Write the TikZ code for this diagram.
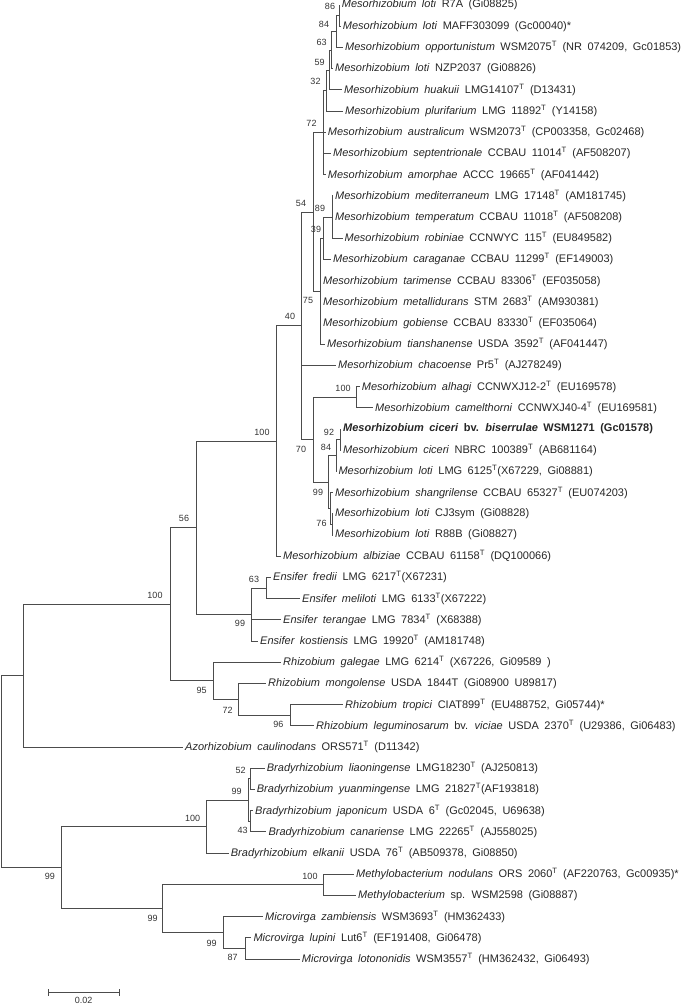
\documentclass[tikz,border=0pt]{standalone}
\usepackage{fontspec}
\setmainfont{Liberation Sans}[WordSpace=1.8]
\usepackage{tikz}
\newcommand{\tsup}{\textsuperscript{T}}

\begin{document}
\begin{tikzpicture}[x=1pt,y=-1pt,
    branch/.style={draw=black!70,line width=0.8pt},
    leaf/.style={anchor=west,inner xsep=2pt,inner ysep=0pt,font=\fontsize{11}{12}\selectfont,text=black!85},
    boot/.style={inner sep=0pt,font=\fontsize{9}{10}\selectfont,text=black!80}]
    \useasboundingbox (0,0) rectangle (685,1004);

    % Internal nodes
    \coordinate (root) at (1.5,771.6);
    \coordinate (azo) at (23,675.6);
    \coordinate (bmm) at (61.7,867.6);
    \coordinate (rhzb) at (170,604.25);
    \coordinate (ensme) at (196,527.75);
    \coordinate (meso) at (276,441.0);
    \coordinate (mcore) at (301.5,325.75);
    \coordinate (mtop) at (313,211.9);
    \coordinate (mloti) at (323,132.55);
    \coordinate (m32) at (326,90.5);
    \coordinate (m59) at (329,69.9);
    \coordinate (m63) at (331.5,50.0);
    \coordinate (m84) at (336.7,31.5);
    \coordinate (m86) at (339.3,15.6);
    \coordinate (mtian) at (320,291.2);
    \coordinate (m39) at (323.5,238.2);
    \coordinate (m89) at (332,217.0);
    \coordinate (mcic) at (313,439.6);
    \coordinate (malh) at (356.7,397.2);
    \coordinate (m99) at (328.5,482.0);
    \coordinate (mcic84) at (336,455.5);
    \coordinate (m92) at (340,439.6);
    \coordinate (mshg) at (330,508.5);
    \coordinate (m76) at (332,524.4);
    \coordinate (ens) at (251,614.5);
    \coordinate (ensfm) at (266,588.0);
    \coordinate (rhz) at (213.3,680.75);
    \coordinate (rhz72) at (238.3,699.3);
    \coordinate (rhz96) at (290,715.2);
    \coordinate (brady) at (206.7,826.5);
    \coordinate (brady99) at (248.3,800.0);
    \coordinate (brady52) at (250.5,778.8);
    \coordinate (brady43) at (250.5,821.2);
    \coordinate (mm) at (162.3,908.65);
    \coordinate (methy) at (323.3,884.8);
    \coordinate (microv) at (223.3,932.5);
    \coordinate (microv87) at (245,948.4);

    % Taxa
    \node[leaf] (r7a) at (339.7,5.0) {\textit{Mesorhizobium loti} R7A (Gi08825)};
    \node[leaf] (maff) at (340.7,26.2) {\textit{Mesorhizobium loti} MAFF303099 (Gc00040)*};
    \node[leaf] (opp) at (343,47.4) {\textit{Mesorhizobium opportunistum} WSM2075\tsup{} (NR 074209, Gc01853)};
    \node[leaf] (nzp) at (333,68.6) {\textit{Mesorhizobium loti} NZP2037 (Gi08826)};
    \node[leaf] (huak) at (342,89.8) {\textit{Mesorhizobium huakuii} LMG14107\tsup{} (D13431)};
    \node[leaf] (plur) at (343,111.0) {\textit{Mesorhizobium plurifarium} LMG 11892\tsup{} (Y14158)};
    \node[leaf] (aust) at (325.7,132.2) {\textit{Mesorhizobium australicum} WSM2073\tsup{} (CP003358, Gc02468)};
    \node[leaf] (sept) at (331,153.4) {\textit{Mesorhizobium septentrionale} CCBAU 11014\tsup{} (AF508207)};
    \node[leaf] (amor) at (325.7,174.6) {\textit{Mesorhizobium amorphae} ACCC 19665\tsup{} (AF041442)};
    \node[leaf] (medi) at (333,195.8) {\textit{Mesorhizobium mediterraneum} LMG 17148\tsup{} (AM181745)};
    \node[leaf] (temp) at (333,217.0) {\textit{Mesorhizobium temperatum} CCBAU 11018\tsup{} (AF508208)};
    \node[leaf] (robi) at (342.5,238.2) {\textit{Mesorhizobium robiniae} CCNWYC 115\tsup{} (EU849582)};
    \node[leaf] (cara) at (331,259.4) {\textit{Mesorhizobium caraganae} CCBAU 11299\tsup{} (EF149003)};
    \node[leaf] (tari) at (321,280.6) {\textit{Mesorhizobium tarimense} CCBAU 83306\tsup{} (EF035058)};
    \node[leaf] (meta) at (321,301.8) {\textit{Mesorhizobium metallidurans} STM 2683\tsup{} (AM930381)};
    \node[leaf] (gobi) at (321,323.0) {\textit{Mesorhizobium gobiense} CCBAU 83330\tsup{} (EF035064)};
    \node[leaf] (tian) at (325,344.2) {\textit{Mesorhizobium tianshanense} USDA 3592\tsup{} (AF041447)};
    \node[leaf] (chac) at (336,365.4) {\textit{Mesorhizobium chacoense} Pr5\tsup{} (AJ278249)};
    \node[leaf] (alha) at (359.7,386.6) {\textit{Mesorhizobium alhagi} CCNWXJ12-2\tsup{} (EU169578)};
    \node[leaf] (came) at (373,407.8) {\textit{Mesorhizobium camelthorni} CCNWXJ40-4\tsup{} (EU169581)};
    \node[leaf] (bise) at (341,429.0) {\textbf{\textit{Mesorhizobium ciceri} bv. \textit{biserrulae} WSM1271 (Gc01578)}};
    \node[leaf] (nbrc) at (341,450.2) {\textit{Mesorhizobium ciceri} NBRC 100389\tsup{} (AB681164)};
    \node[leaf] (lmg6125) at (336.3,471.4) {\textit{Mesorhizobium loti} LMG 6125\tsup(X67229, Gi08881)};
    \node[leaf] (shan) at (333,492.6) {\textit{Mesorhizobium shangrilense} CCBAU 65327\tsup{} (EU074203)};
    \node[leaf] (cj3) at (333,513.8) {\textit{Mesorhizobium loti} CJ3sym (Gi08828)};
    \node[leaf] (r88b) at (333,535.0) {\textit{Mesorhizobium loti} R88B (Gi08827)};
    \node[leaf] (albi) at (281,556.2) {\textit{Mesorhizobium albiziae} CCBAU 61158\tsup{} (DQ100066)};
    \node[leaf] (fred) at (271,577.4) {\textit{Ensifer fredii} LMG 6217\tsup(X67231)};
    \node[leaf] (meli) at (300,598.6) {\textit{Ensifer meliloti} LMG 6133\tsup(X67222)};
    \node[leaf] (tera) at (281,619.8) {\textit{Ensifer terangae} LMG 7834\tsup{} (X68388)};
    \node[leaf] (kost) at (258,641.0) {\textit{Ensifer kostiensis} LMG 19920\tsup{} (AM181748)};
    \node[leaf] (gale) at (281,662.2) {\textit{Rhizobium galegae} LMG 6214\tsup{} (X67226, Gi09589 )};
    \node[leaf] (mong) at (266,683.4) {\textit{Rhizobium mongolense} USDA 1844T (Gi08900 U89817)};
    \node[leaf] (trop) at (343,704.6) {\textit{Rhizobium tropici} CIAT899\tsup{} (EU488752, Gi05744)*};
    \node[leaf] (legu) at (314,725.8) {\textit{Rhizobium leguminosarum} bv. \textit{viciae} USDA 2370\tsup{} (U29386, Gi06483)};
    \node[leaf] (azor) at (183,747.0) {\textit{Azorhizobium caulinodans} ORS571\tsup{} (D11342)};
    \node[leaf] (liao) at (264.7,768.2) {\textit{Bradyrhizobium liaoningense} LMG18230\tsup{} (AJ250813)};
    \node[leaf] (yuan) at (254.7,789.4) {\textit{Bradyrhizobium yuanmingense} LMG 21827\tsup(AF193818)};
    \node[leaf] (japo) at (253,810.6) {\textit{Bradyrhizobium japonicum} USDA 6\tsup{} (Gc02045, U69638)};
    \node[leaf] (cana) at (266.3,831.8) {\textit{Bradyrhizobium canariense} LMG 22265\tsup{} (AJ558025)};
    \node[leaf] (elka) at (228.7,853.0) {\textit{Bradyrhizobium elkanii} USDA 76\tsup{} (AB509378, Gi08850)};
    \node[leaf] (mnod) at (354,874.2) {\textit{Methylobacterium nodulans} ORS 2060\tsup{} (AF220763, Gc00935)*};
    \node[leaf] (msp) at (356,895.4) {\textit{Methylobacterium} sp. WSM2598 (Gi08887)};
    \node[leaf] (zamb) at (263,916.6) {\textit{Microvirga zambiensis} WSM3693\tsup{} (HM362433)};
    \node[leaf] (lupi) at (251.3,937.8) {\textit{Microvirga lupini} Lut6\tsup{} (EF191408, Gi06478)};
    \node[leaf] (loto) at (299.7,959.0) {\textit{Microvirga lotononidis} WSM3557\tsup{} (HM362432, Gi06493)};

    % Branches
    \draw[branch] (root) |- (azo) (root) |- (bmm);
    \draw[branch] (azo) |- (rhzb) (azo) |- (azor.west);
    \draw[branch] (rhzb) |- (ensme) (rhzb) |- (rhz);
    \draw[branch] (ensme) |- (meso) (ensme) |- (ens);
    \draw[branch] (meso) |- (mcore) (meso) |- (albi.west);
    \draw[branch] (mcore) |- (mtop) (mcore) |- (chac.west) (mcore) |- (mcic);
    \draw[branch] (mtop) |- (mloti) (mtop) |- (mtian);
    \draw[branch] (mloti) |- (m32) (mloti) |- (aust.west) (mloti) |- (sept.west) (mloti) |- (amor.west);
    \draw[branch] (m32) |- (m59) (m32) |- (plur.west);
    \draw[branch] (m59) |- (m63) (m59) |- (huak.west);
    \draw[branch] (m63) |- (m84) (m63) |- (nzp.west);
    \draw[branch] (m84) |- (m86) (m84) |- (opp.west);
    \draw[branch] (m86) |- (r7a.west) (m86) |- (maff.west);
    \draw[branch] (mtian) |- (m39) (mtian) |- (tari.west) (mtian) |- (meta.west) (mtian) |- (gobi.west) (mtian) |- (tian.west);
    \draw[branch] (m39) |- (m89) (m39) |- (cara.west);
    \draw[branch] (m89) |- (medi.west) (m89) |- (temp.west) (m89) |- (robi.west);
    \draw[branch] (mcic) |- (malh) (mcic) |- (m99);
    \draw[branch] (malh) |- (alha.west) (malh) |- (came.west);
    \draw[branch] (m99) |- (mcic84) (m99) |- (mshg);
    \draw[branch] (mcic84) |- (m92) (mcic84) |- (lmg6125.west);
    \draw[branch] (m92) |- (bise.west) (m92) |- (nbrc.west);
    \draw[branch] (mshg) |- (shan.west) (mshg) |- (m76);
    \draw[branch] (m76) |- (cj3.west) (m76) |- (r88b.west);
    \draw[branch] (ens) |- (ensfm) (ens) |- (tera.west) (ens) |- (kost.west);
    \draw[branch] (ensfm) |- (fred.west) (ensfm) |- (meli.west);
    \draw[branch] (rhz) |- (gale.west) (rhz) |- (rhz72);
    \draw[branch] (rhz72) |- (mong.west) (rhz72) |- (rhz96);
    \draw[branch] (rhz96) |- (trop.west) (rhz96) |- (legu.west);
    \draw[branch] (bmm) |- (brady) (bmm) |- (mm);
    \draw[branch] (brady) |- (brady99) (brady) |- (elka.west);
    \draw[branch] (brady99) |- (brady52) (brady99) |- (brady43);
    \draw[branch] (brady52) |- (liao.west) (brady52) |- (yuan.west);
    \draw[branch] (brady43) |- (japo.west) (brady43) |- (cana.west);
    \draw[branch] (mm) |- (methy) (mm) |- (microv);
    \draw[branch] (methy) |- (mnod.west) (methy) |- (msp.west);
    \draw[branch] (microv) |- (zamb.west) (microv) |- (microv87);
    \draw[branch] (microv87) |- (lupi.west) (microv87) |- (loto.west);

    % Bootstrap values
    \node[boot] (lb86) at (330,6.5) {86};
    \node[boot] (lb84) at (324,24) {84};
    \node[boot] (lb63) at (321.7,42.5) {63};
    \node[boot] (lb59) at (319.7,62) {59};
    \node[boot] (lb32) at (315.5,81.7) {32};
    \node[boot] (lb72) at (311.5,123.3) {72};
    \node[boot] (lb54) at (301,203) {54};
    \node[boot] (lb89) at (320,208) {89};
    \node[boot] (lb39) at (316,229.3) {39};
    \node[boot] (lb75) at (308,300) {75};
    \node[boot] (lb40) at (290,316.7) {40};
    \node[boot] (lb70) at (301,449.5) {70};
    \node[boot] (lbalh) at (343,388.5) {100};
    \node[boot] (lb92) at (329,432) {92};
    \node[boot] (lbc84) at (326,447.5) {84};
    \node[boot] (lbc99) at (318,492.7) {99};
    \node[boot] (lb76) at (321.5,523) {76};
    \node[boot] (lbmeso) at (262,432) {100};
    \node[boot] (lb56) at (184,518.3) {56};
    \node[boot] (lbfm) at (254,579.3) {63};
    \node[boot] (lbens) at (240,623.3) {99};
    \node[boot] (lbrhz) at (201.7,690) {95};
    \node[boot] (lbr72) at (227.7,710) {72};
    \node[boot] (lb96) at (278.3,724) {96};
    \node[boot] (lbrhzb) at (155,595) {100};
    \node[boot] (lbbmm) at (50,876.7) {99};
    \node[boot] (lbbrady) at (192.7,818.3) {100};
    \node[boot] (lb52) at (240.7,770) {52};
    \node[boot] (lbb99) at (236.7,791.7) {99};
    \node[boot] (lb43) at (242.7,830) {43};
    \node[boot] (lbmethy) at (310,876.7) {100};
    \node[boot] (lbmicro) at (211.7,943.3) {99};
    \node[boot] (lb87) at (232.7,957.3) {87};
    \node[boot] (lbmm) at (152.7,918.3) {99};

    % Scale bar
    \coordinate (sbl) at (48.3,992);
    \coordinate (sbr) at (119,992);
    \draw[branch] (sbl) -- (sbr);
    \draw[branch] ([yshift=-3.5pt]sbl) -- ([yshift=3.5pt]sbl);
    \draw[branch] ([yshift=-3.5pt]sbr) -- ([yshift=3.5pt]sbr);
    \node[boot] (sbtext) at (83.6,1000) {0.02};
\end{tikzpicture}
\end{document}
